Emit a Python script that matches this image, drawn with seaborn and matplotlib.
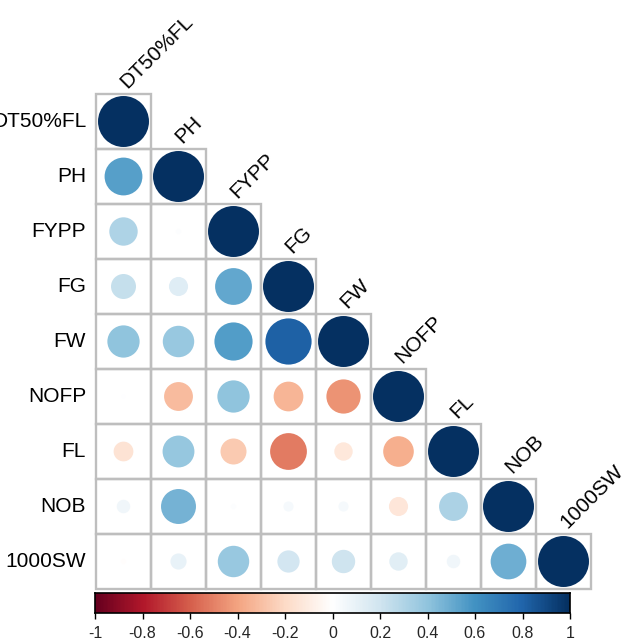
import numpy as np
import pandas as pd
import matplotlib
matplotlib.use("Agg")
import matplotlib.pyplot as plt
from matplotlib.patches import Circle, Rectangle
import seaborn as sns

# Trait names (row/column order of the correlation matrix)
traits = ["DT50%FL", "PH", "FYPP", "FG", "FW", "NOFP", "FL", "NOB", "1000SW"]

# Lower-triangle correlations, one list per row (diagonal included)
r_dt50 = [1.00]
r_ph = [0.55, 1.00]
r_fypp = [0.31, 0.01, 1.00]
r_fg = [0.24, 0.14, 0.52, 1.00]
r_fw = [0.40, 0.38, 0.56, 0.82, 1.00]
r_nofp = [0.005, -0.32, 0.40, -0.34, -0.45, 1.00]
r_fl = [-0.15, 0.39, -0.26, -0.52, -0.13, -0.36, 1.00]
r_nob = [0.07, 0.47, 0.01, 0.04, 0.04, -0.14, 0.32, 1.00]
r_1000sw = [-0.01, 0.10, 0.38, 0.19, 0.21, 0.13, 0.07, 0.49, 1.00]

rows = [r_dt50, r_ph, r_fypp, r_fg, r_fw, r_nofp, r_fl, r_nob, r_1000sw]

cbar_ticks = [-1, -0.8, -0.6, -0.4, -0.2, 0, 0.2, 0.4, 0.6, 0.8, 1]
cbar_labels = ["-1", "-0.8", "-0.6", "-0.4", "-0.2", "0", "0.2", "0.4", "0.6", "0.8", "1"]

n = len(traits)
corr = pd.DataFrame(np.nan, index=traits, columns=traits)
for i, vals in enumerate(rows):
    for j, v in enumerate(vals):
        corr.iloc[i, j] = v

sns.set_theme(style="white")
plt.rcParams["font.family"] = ["Liberation Sans", "DejaVu Sans"]

# Red-white-blue diverging palette
cmap = sns.blend_palette(
    ["#67001F", "#B2182B", "#D6604D", "#F4A582", "#FDDBC7", "#FFFFFF",
     "#D1E5F0", "#92C5DE", "#4393C3", "#2166AC", "#053061"],
    n_colors=200, as_cmap=True)
norm = matplotlib.colors.Normalize(vmin=-1, vmax=1)

W, H = 623, 641
fig = plt.figure(figsize=(W / 100, H / 100), dpi=100)
fig.patch.set_facecolor("white")

x0, x1, y0, y1 = 96, 591, 94, 589
ax = fig.add_axes([x0 / W, 1 - y1 / H, (x1 - x0) / W, (y1 - y0) / H])
ax.set_xlim(0, n)
ax.set_ylim(n, 0)
ax.set_aspect("equal")
ax.axis("off")

grid_col = "#BEBEBE"
for i in range(n):
    for j in range(i + 1):
        ax.add_patch(Rectangle((j, i), 1, 1, fill=False, edgecolor=grid_col,
                               linewidth=1.7, clip_on=False, zorder=1))
        v = corr.iloc[i, j]
        rad = 0.4636 * np.sqrt(abs(v))
        ax.add_patch(Circle((j + 0.5, i + 0.5), rad, facecolor=cmap(norm(v)),
                            edgecolor="none", zorder=2))

# Row labels on the left
for i, name in enumerate(traits):
    ax.text(-0.18, i + 0.5, name, ha="right", va="center", fontsize=15,
            color="black", clip_on=False)

# Column labels along the diagonal, rotated 45 degrees
for j, name in enumerate(traits):
    ax.text(j + 0.57, j - 0.09, name, ha="left", va="baseline", rotation=45,
            rotation_mode="anchor", fontsize=15, color="black", clip_on=False)

# Colour legend
cx0, cx1, cy0, cy1 = 95, 570, 593, 613
cax = fig.add_axes([cx0 / W, 1 - cy1 / H, (cx1 - cx0) / W, (cy1 - cy0) / H])
grad = np.linspace(-1, 1, 400).reshape(1, -1)
cax.imshow(grad, aspect="auto", cmap=cmap, norm=norm, extent=[-1, 1, 0, 1])
cax.set_xlim(-1, 1)
cax.set_yticks([])
cax.set_xticks(cbar_ticks)
cax.set_xticklabels(cbar_labels, fontsize=11.5)
cax.tick_params(axis="x", direction="out", length=4, width=1, color="black",
                pad=5, bottom=True)
for s in cax.spines.values():
    s.set_visible(True)
    s.set_color("black")
    s.set_linewidth(1.2)

fig.savefig("out.png", dpi=100, facecolor="white")
